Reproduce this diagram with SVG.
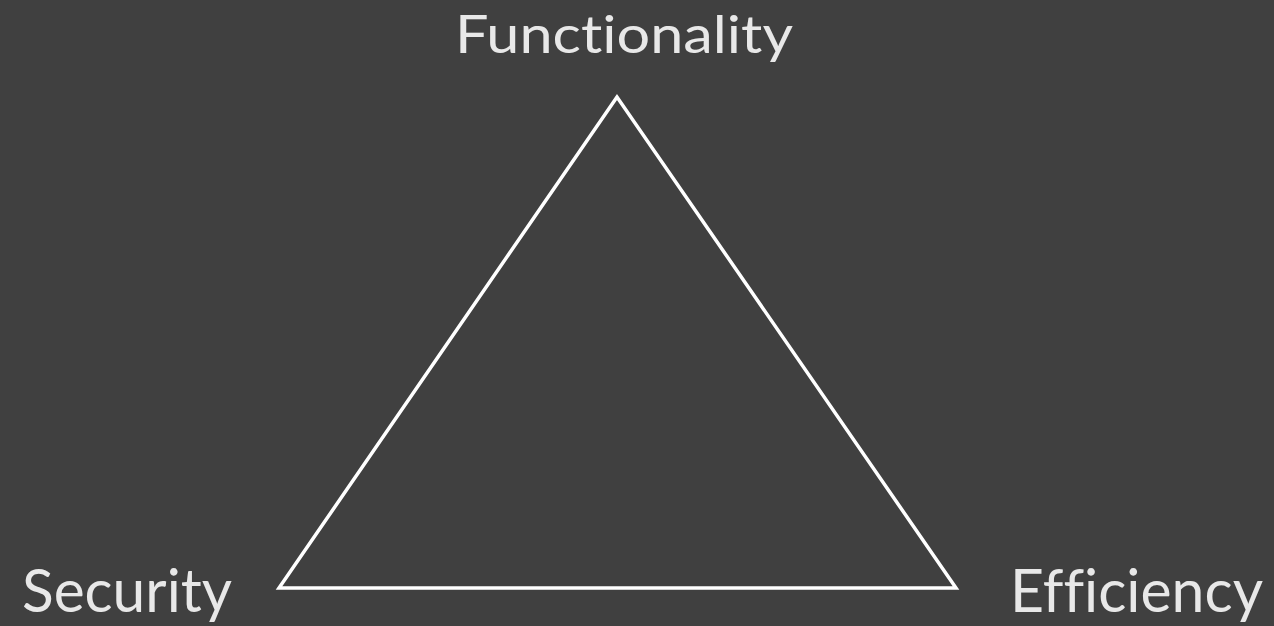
<svg xmlns="http://www.w3.org/2000/svg" width="1274" height="626" viewBox="0 0 1274 626">
<style>
.lbl{font-family:Lato,"Open Sans","Noto Sans",sans-serif;fill:#e8e8e8;font-variant-ligatures:none;font-feature-settings:"liga" 0,"clig" 0,"dlig" 0}
</style>
<rect width="1274" height="626" fill="#404040"/>
<g id="connectors">
<polygon points="617,97 279,588 956,588" fill="none" stroke="#ffffff" stroke-width="3.5"/>
</g>
<g id="functionality"><text class="lbl" x="455" y="53" font-size="53" textLength="338" lengthAdjust="spacingAndGlyphs">Functionality</text></g>
<g id="security"><text class="lbl" x="22" y="612" font-size="60" textLength="210" lengthAdjust="spacingAndGlyphs">Security</text></g>
<g id="efficiency"><text class="lbl" x="1010" y="612" font-size="60" textLength="253" lengthAdjust="spacingAndGlyphs">Efficiency</text></g>
</svg>
